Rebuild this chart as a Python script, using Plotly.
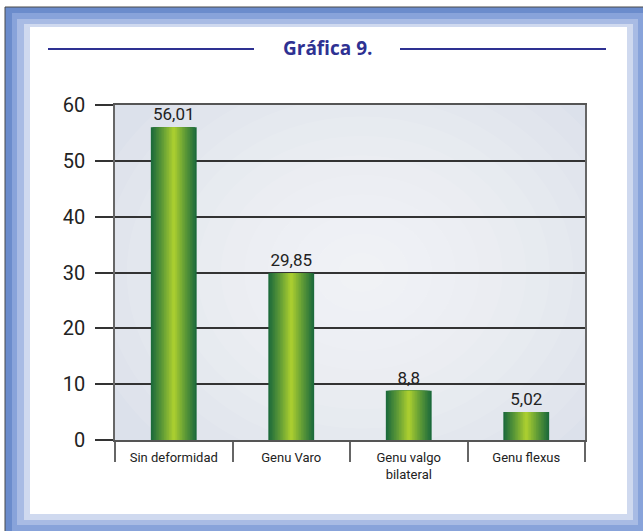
import plotly.graph_objects as go

# datos de la gráfica
categorias = ["Sin deformidad", "Genu Varo", "Genu valgo<br>bilateral", "Genu flexus"]
porcentajes = [56.01, 29.85, 8.8, 5.02]
ticks_y = [0, 10, 20, 30, 40, 50, 60]

W, H = 643, 531
L, R, T, B = 115, 585, 105, 440  # caja del area de trazado en px


def px(x):
    return (x - L) / (R - L)


def py(y):
    return (B - y) / (B - T)


def mezcla(c1, c2, t):
    a = [int(c1[i:i + 2], 16) for i in (1, 3, 5)]
    b = [int(c2[i:i + 2], 16) for i in (1, 3, 5)]
    return "#" + "".join(f"{round(a[k] + (b[k] - a[k]) * t):02x}" for k in range(3))


fig = go.Figure()

# barras con efecto cilindro: capas superpuestas cada vez mas estrechas
ancho = 0.39
capas = 14
oscuro, medio, claro = "#1d6b3b", "#5e9a37", "#a9cd30"
for i in range(capas):
    t = i / (capas - 1)
    w = ancho * (1 - t * 0.93)
    color = mezcla(oscuro, medio, t / 0.5) if t < 0.5 else mezcla(medio, claro, (t - 0.5) / 0.5)
    fig.add_trace(go.Bar(
        x=categorias,
        y=porcentajes,
        width=w,
        marker=dict(color=color, line=dict(width=0)),
        text=[str(v).replace(".", ",") for v in porcentajes] if i == 0 else None,
        textposition="outside" if i == 0 else "none",
        textfont=dict(size=17, color="#222222", family="Liberation Sans Narrow, Roboto, sans-serif"),
        cliponaxis=False,
        hoverinfo="skip",
        showlegend=False,
    ))

shapes = []
# marco azul escalonado
bandas = [
    ((5, 7, 660, 560), "#6b8ccc"),
    ((12, 13, 643, 531), "#88a3da"),
    ((17, 19, 638, 525), "#a8bbe4"),
    ((24, 24, 633, 520), "#cfd9ef"),
    ((30, 27, 627, 514), "#ffffff"),
]
for (x0, y0, x1, y1), c in bandas:
    shapes.append(dict(type="rect", xref="paper", yref="paper", layer="below",
                       x0=px(x0), x1=px(x1), y0=py(y0), y1=py(y1),
                       fillcolor=c, line=dict(width=1 if c == "#6b8ccc" else 0, color="#4a4a4a")))
# fondo del area de trazado
shapes.append(dict(type="rect", xref="paper", yref="paper", layer="below",
                   x0=0, x1=1, y0=0, y1=1, fillcolor="#dce1eb", line=dict(width=0)))
# brillo radial suave hacia el centro
for k in range(12):
    f = 1 - k / 12
    shapes.append(dict(type="circle", xref="x", yref="y", layer="below",
                       x0=1.6 - 2.4 * f, x1=1.6 + 2.4 * f, y0=30 - 42 * f, y1=30 + 42 * f,
                       fillcolor="rgba(255,255,255,0.09)", line=dict(width=0)))
# lineas del titulo
for x0, x1 in [(48, 254), (400, 606)]:
    shapes.append(dict(type="line", xref="paper", yref="paper",
                       x0=px(x0), x1=px(x1), y0=py(49), y1=py(49),
                       line=dict(color="#2e3192", width=2)))

fig.update_layout(
    width=W, height=H,
    margin=dict(l=L, r=W - R, t=T, b=H - B, pad=0),
    paper_bgcolor="#ffffff",
    plot_bgcolor="rgba(0,0,0,0)",
    barmode="overlay",
    shapes=shapes,
    annotations=[dict(text="<b>Gráfica 9.</b>", xref="paper", yref="paper",
                      x=px(327), y=py(48), xanchor="center", yanchor="middle", showarrow=False,
                      font=dict(size=19, color="#2e3192", family="Open Sans, sans-serif"))],
    xaxis=dict(
        range=[-0.5, 3.5], automargin=False,
        showline=True, linecolor="#555555", linewidth=1.5, mirror=True,
        showgrid=False, tickson="boundaries", ticks="outside", ticklen=20,
        tickcolor="#666666", tickwidth=1.5, ticklabelstandoff=5,
        tickfont=dict(size=13, color="#222222", family="Liberation Sans Narrow, Roboto, sans-serif"),
    ),
    yaxis=dict(
        range=[0, 60], tickvals=ticks_y, automargin=False,
        showline=True, linecolor="#666666", linewidth=1.5, mirror=True,
        showgrid=True, gridcolor="#333333", gridwidth=1.5,
        zeroline=False, ticks="outside", ticklen=18, tickcolor="#333333", tickwidth=1.5,
        ticklabelstandoff=6,
        tickfont=dict(size=20, color="#222222", family="Liberation Sans Narrow, Roboto, sans-serif"),
    ),
)

# quitar el margen del body para que el marco quede en su sitio
fig.write_html("out.html", config={"displayModeBar": False},
               post_script="document.body.style.margin='0';")
